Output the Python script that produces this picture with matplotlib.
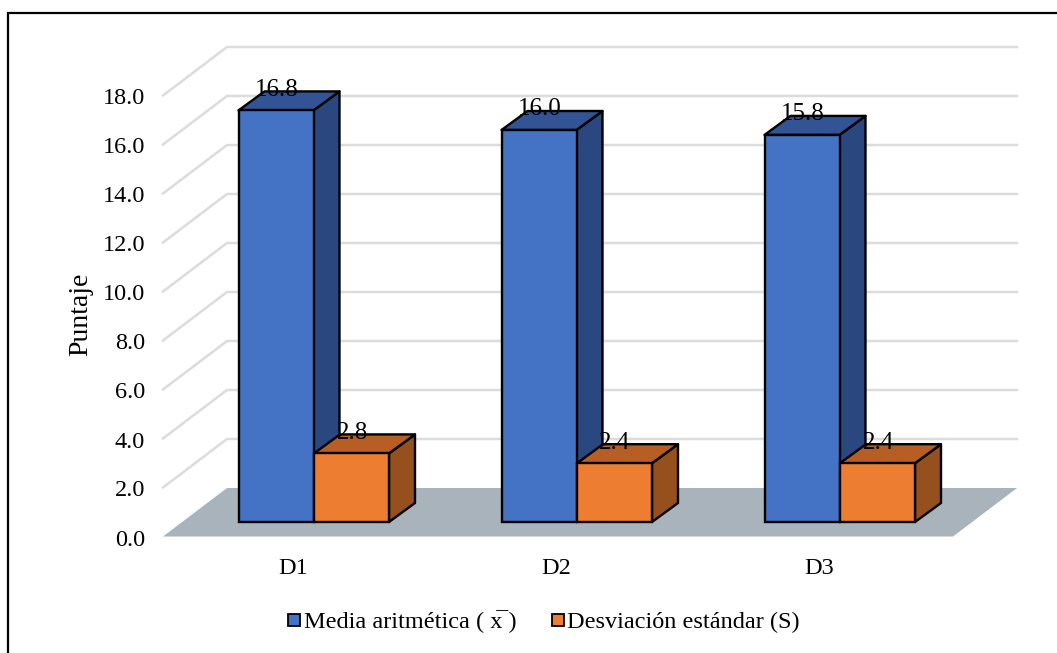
#!/usr/bin/env python3
"""3D style clustered bars, drawn as flat polygons on one axes"""

import matplotlib
matplotlib.use("Agg")
from matplotlib import pyplot as plt
from matplotlib.patches import Polygon, Rectangle
from matplotlib.lines import Line2D

categories = ["D1", "D2", "D3"]
media = [16.8, 16.0, 15.8]
desviacion = [2.8, 2.4, 2.4]
y_ticks = [0.0, 2.0, 4.0, 6.0, 8.0, 10.0, 12.0, 14.0, 16.0, 18.0]
series_names = ["Media aritmética ( x\u0305 )", "Desviación estándar (S)"]

W, H = 1057, 653
# pixel scale of the category and value axes
PX_CAT = 263.0
PX_VAL = 24.5
X0_PX = 314.0
Y0_PX = 536.5

DX = 26.0 / PX_CAT   # depth shift of the boxes
DY = 19.0 / PX_VAL
WALL_DX = 64.0 / PX_CAT   # depth shift of the back wall
WALL_DY = 48.5 / PX_VAL
BAR_W = 75.0 / PX_CAT
BASE = 14.5 / PX_VAL

plt.rcParams["font.family"] = ["Liberation Serif", "DejaVu Serif"]

fig = plt.figure(figsize=(W / 100, H / 100), dpi=100)
ax = fig.add_axes([0, 0, 1, 1])
ax.set_xlim(-X0_PX / PX_CAT, (W - X0_PX) / PX_CAT)
ax.set_ylim(-(H - Y0_PX) / PX_VAL, Y0_PX / PX_VAL)
ax.axis("off")

left = -(X0_PX - 163.0) / PX_CAT
right = (953.0 - X0_PX) / PX_CAT

# gridlines on the side and back wall
grid_c = "#dcdcdc"
for t in y_ticks[1:]:
    ax.plot([left, left + WALL_DX, right + WALL_DX],
            [t, t + WALL_DY, t + WALL_DY], color=grid_c, lw=1.8, zorder=1,
            solid_joinstyle="miter")

# floor
ax.add_patch(Polygon([(left, 0), (right, 0), (right + WALL_DX, WALL_DY), (left + WALL_DX, WALL_DY)],
                     closed=True, fc="#a9b3bc", ec="none", zorder=2))


def box(x, val, face, top, side, z):
    y0 = BASE
    y1 = BASE + val
    x1 = x + BAR_W
    ax.add_patch(Polygon([(x1, y0), (x1 + DX, y0 + DY), (x1 + DX, y1 + DY), (x1, y1)],
                         closed=True, fc=side, ec="black", lw=1.7, zorder=z, joinstyle="round"))
    ax.add_patch(Polygon([(x, y1), (x + DX, y1 + DY), (x1 + DX, y1 + DY), (x1, y1)],
                         closed=True, fc=top, ec="black", lw=1.7, zorder=z, joinstyle="round"))
    ax.add_patch(Rectangle((x, y0), BAR_W, val, fc=face, ec="black", lw=1.7, zorder=z + 0.1))


LABEL_DX = -12.5 / PX_CAT
LABEL_DY = 4.5 / PX_VAL
for i, name in enumerate(categories):
    box(i - BAR_W - 0.5 / PX_CAT, media[i], "#4472c4", "#325494", "#2a4780", 3)
    box(i, desviacion[i], "#ed7d31", "#b65e24", "#96501e", 4)
    ax.text(i - BAR_W / 2 + DX / 2 + LABEL_DX, BASE + media[i] + DY + LABEL_DY - 0.12, "%.1f" % media[i],
            ha="center", va="center", fontsize=18, color="black", zorder=6)
    ax.text(i + BAR_W / 2 + DX / 2 + LABEL_DX, BASE + desviacion[i] + DY + LABEL_DY - 0.12, "%.1f" % desviacion[i],
            ha="center", va="center", fontsize=18, color="black", zorder=6)
    ax.text(i - 21.0 / PX_CAT, -32.0 / PX_VAL, name, ha="center", va="center", fontsize=17.5)

for t in y_ticks:
    ax.text(-169.0 / PX_CAT, t - 3.5 / PX_VAL, "%.1f" % t, ha="right", va="center", fontsize=17.5)

ax.text(-233.0 / PX_CAT, 9.05, "Puntaje", rotation=90, ha="center", va="center", fontsize=20)

handles = [Line2D([], [], marker="s", ls="none", mfc="#4472c4", mec="black", mew=1.3, ms=8),
           Line2D([], [], marker="s", ls="none", mfc="#ed7d31", mec="black", mew=1.3, ms=8)]
fig.legend(handles, series_names, loc="center", bbox_to_anchor=(541.0 / W, 1 - 622.0 / H), ncol=2,
           frameon=False, fontsize=17.5, handletextpad=-0.1, columnspacing=1.2, handlelength=1.0, borderpad=0)

# outer frame of the chart: only left and top edges are visible
fig.add_artist(Line2D([7.5 / W, 7.5 / W, 1.0], [0.0, 1 - 12.5 / H, 1 - 12.5 / H], transform=fig.transFigure,
                      color="black", lw=1.6, solid_joinstyle="miter"))

fig.savefig("out.png", dpi=100)
